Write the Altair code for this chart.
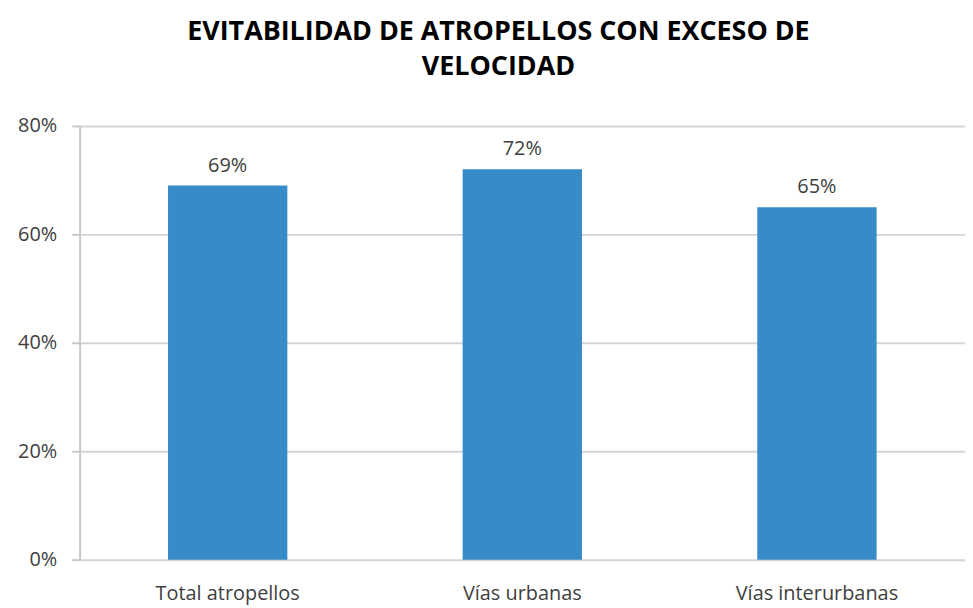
import altair as alt
import pandas as pd

categories = ["Total atropellos", "Vías urbanas", "Vías interurbanas"]
values = [0.69, 0.72, 0.65]
labels = ["69%", "72%", "65%"]

df = pd.DataFrame({"cat": categories, "val": values, "lab": labels})

FONT = "Open Sans"
TXT = "#404040"
base = alt.Chart(df).encode(
    x=alt.X("cat:N", sort=categories, title=None,
            scale=alt.Scale(paddingInner=0.595, paddingOuter=0.3),
            axis=alt.Axis(labelAngle=0, labelFont=FONT, labelFontSize=20,
                          labelColor=TXT, ticks=False, domain=False,
                          labelPadding=24)),
    y=alt.Y("val:Q", title=None,
            scale=alt.Scale(domain=[0, 0.8]),
            axis=alt.Axis(format=".0%", values=[0, 0.2, 0.4, 0.6, 0.8],
                          labelFont=FONT, labelFontSize=20, labelColor=TXT,
                          gridColor="#d4d4d4", gridWidth=2,
                          domainColor="#c8c8c8", domainWidth=2,
                          tickColor="#c8c8c8", tickSize=8, tickWidth=2,
                          labelPadding=15)),
)

bars = base.mark_bar(color="#388BC9")
text = base.mark_text(dy=-20, font=FONT, fontSize=20, color=TXT).encode(text="lab:N")

chart = (bars + text).properties(
    width=890, height=436,
    title=alt.TitleParams(
        ["EVITABILIDAD DE ATROPELLOS CON EXCESO DE", "VELOCIDAD"],
        font=FONT, fontSize=27, fontWeight="bold", color="#000000",
        anchor="middle", dx=-24, offset=35, lineHeight=35,
    ),
    autosize=alt.AutoSizeParams(type="none"),
    padding={"left": 72, "top": 117, "right": 0, "bottom": 46},
).configure_view(stroke=None).configure_axisX(grid=False)

chart.save("out.html", embed_options={"renderer": "svg", "actions": False})
